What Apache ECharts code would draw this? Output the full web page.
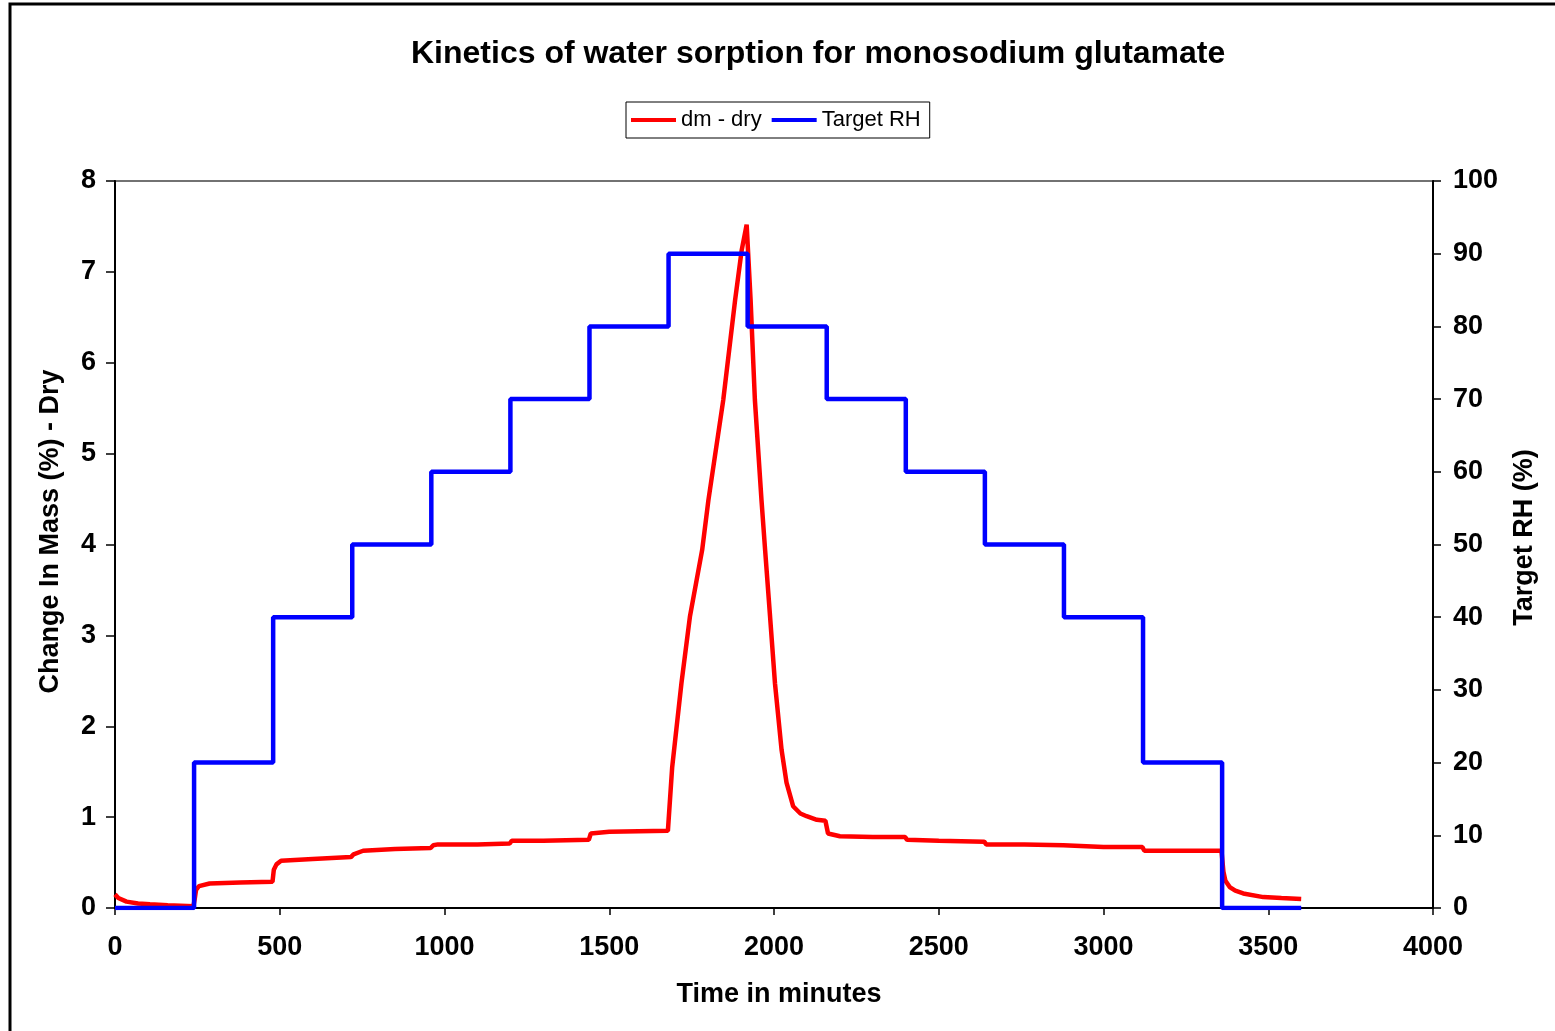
<!DOCTYPE html>
<html>
<head>
<meta charset="utf-8">
<script src="https://cdn.jsdelivr.net/npm/echarts@6/dist/echarts.min.js"></script>
<style>
  html, body { margin: 0; padding: 0; background: #fff; }
  #chart { width: 1555px; height: 1031px; }
</style>
</head>
<body>
<div id="chart"></div>
<script>
// Target RH step program (minutes, %)
const rhTime = [0, 240, 480, 720, 960, 1200, 1440, 1680, 1920, 2160, 2400, 2640, 2880, 3120, 3360, 3600];
const rhValue = [0, 20, 40, 50, 60, 70, 80, 90, 80, 70, 60, 50, 40, 20, 0, 0];

// dm - dry (minutes, %)
const dmTime = [
    0, 10, 35, 70, 106, 160, 238, 242, 246, 255, 287, 380, 478,
    482, 490, 504, 600, 716, 724, 753, 850, 958, 966, 980, 1100, 1198,
    1204, 1300, 1438, 1444, 1500, 1678, 1691, 1719, 1745, 1782, 1801, 1846,
    1882, 1902, 1917, 1929, 1942, 1962, 1973, 1988, 2003, 2023, 2038, 2058,
    2080, 2099, 2130, 2156, 2164, 2200, 2300, 2398, 2404, 2500, 2638, 2644,
    2760, 2878, 2884, 3000, 3118, 3124, 3250, 3358, 3364, 3370, 3383, 3400,
    3424, 3485, 3540, 3600
];
const dmValue = [
    0.15, 0.11, 0.07, 0.05, 0.04, 0.03, 0.02, 0.10, 0.20, 0.24, 0.27, 0.28, 0.29,
    0.42, 0.48, 0.52, 0.54, 0.56, 0.59, 0.63, 0.65, 0.66, 0.69, 0.70, 0.70, 0.71,
    0.74, 0.74, 0.75, 0.82, 0.84, 0.85, 1.55, 2.47, 3.21, 3.94, 4.49, 5.59,
    6.69, 7.24, 7.52, 6.69, 5.59, 4.49, 3.94, 3.21, 2.47, 1.74, 1.38, 1.12,
    1.04, 1.01, 0.97, 0.96, 0.82, 0.79, 0.78, 0.78, 0.75, 0.74, 0.73, 0.70,
    0.70, 0.69, 0.68, 0.67, 0.67, 0.63, 0.63, 0.63, 0.40, 0.30, 0.23, 0.19,
    0.16, 0.12, 0.11, 0.10
];

const FONT = "'Liberation Sans', Arial, sans-serif";

function pairs(xs, ys) {
    return xs.map((x, i) => [x, ys[i]]);
}

function initChart() {
    const axisLabel = { color: '#000', fontSize: 27, fontWeight: 'bold', fontFamily: FONT };
    const nameStyle = { color: '#000', fontSize: 27, fontWeight: 'bold', fontFamily: FONT };
    const option = {
        backgroundColor: '#fff',
        animation: false,
        title: {
            text: 'Kinetics of water sorption for monosodium glutamate',
            left: 406,
            top: 33,
            textStyle: { color: '#000', fontSize: 32, fontWeight: 'bold', fontFamily: FONT }
        },
        legend: {
            left: 626,
            top: 102,
            padding: [7, 9, 7, 5],
            itemWidth: 45,
            itemHeight: 4,
            itemGap: 10,
            icon: 'rect',
            borderColor: '#000',
            borderWidth: 1,
            textStyle: { color: '#000', fontSize: 22, fontFamily: FONT },
            data: ['dm - dry', 'Target RH']
        },
        graphic: [{
            type: 'rect',
            z: -1,
            shape: { x: 10, y: 4, width: 1600, height: 1100 },
            style: { fill: 'none', stroke: '#000', lineWidth: 3 }
        }],
        grid: {
            left: 115,
            top: 181,
            right: 122,
            bottom: 123,
            show: true,
            borderColor: '#444',
            borderWidth: 1.5,
            backgroundColor: '#fff'
        },
        xAxis: {
            type: 'value',
            min: 0,
            max: 4000,
            interval: 500,
            name: 'Time in minutes',
            nameLocation: 'middle',
            nameGap: 73,
            nameTextStyle: Object.assign({ padding: [0, 0, 0, 10] }, nameStyle),
            axisLine: { lineStyle: { color: '#000', width: 2 } },
            axisTick: { show: true, length: 7, lineStyle: { color: '#000', width: 1.5 } },
            axisLabel: Object.assign({ margin: 26, formatter: v => String(v) }, axisLabel),
            splitLine: { show: false }
        },
        yAxis: [{
            type: 'value',
            min: 0,
            max: 8,
            interval: 1,
            position: 'left',
            name: 'Change In Mass (%) - Dry',
            nameLocation: 'middle',
            nameRotate: 90,
            nameGap: 51,
            nameTextStyle: Object.assign({ padding: [0, 0, 0, 26] }, nameStyle),
            axisLine: { show: true, lineStyle: { color: '#000', width: 2 } },
            axisTick: { show: true, length: 9, lineStyle: { color: '#000', width: 1.5 } },
            axisLabel: Object.assign({ margin: 19 }, axisLabel),
            splitLine: { show: false }
        }, {
            type: 'value',
            min: 0,
            max: 100,
            interval: 10,
            position: 'right',
            name: 'Target RH (%)',
            nameLocation: 'middle',
            nameRotate: 90,
            nameGap: 78,
            nameTextStyle: Object.assign({ padding: [0, 0, 0, 14] }, nameStyle),
            axisLine: { show: true, lineStyle: { color: '#000', width: 2 } },
            axisTick: { show: true, length: 8, lineStyle: { color: '#000', width: 1.5 } },
            axisLabel: Object.assign({ margin: 20 }, axisLabel),
            splitLine: { show: false }
        }],
        series: [{
            name: 'dm - dry',
            type: 'line',
            yAxisIndex: 0,
            showSymbol: false,
            symbol: 'none',
            color: '#ff0000',
            lineStyle: { color: '#ff0000', width: 4.5 },
            data: pairs(dmTime, dmValue)
        }, {
            name: 'Target RH',
            type: 'line',
            yAxisIndex: 1,
            step: 'end',
            showSymbol: false,
            symbol: 'none',
            color: '#0000ff',
            lineStyle: { color: '#0000ff', width: 4.5 },
            data: pairs(rhTime, rhValue)
        }]
    };
    const chart = echarts.init(document.getElementById('chart'));
    chart.setOption(option);
}

initChart();
</script>
</body>
</html>
